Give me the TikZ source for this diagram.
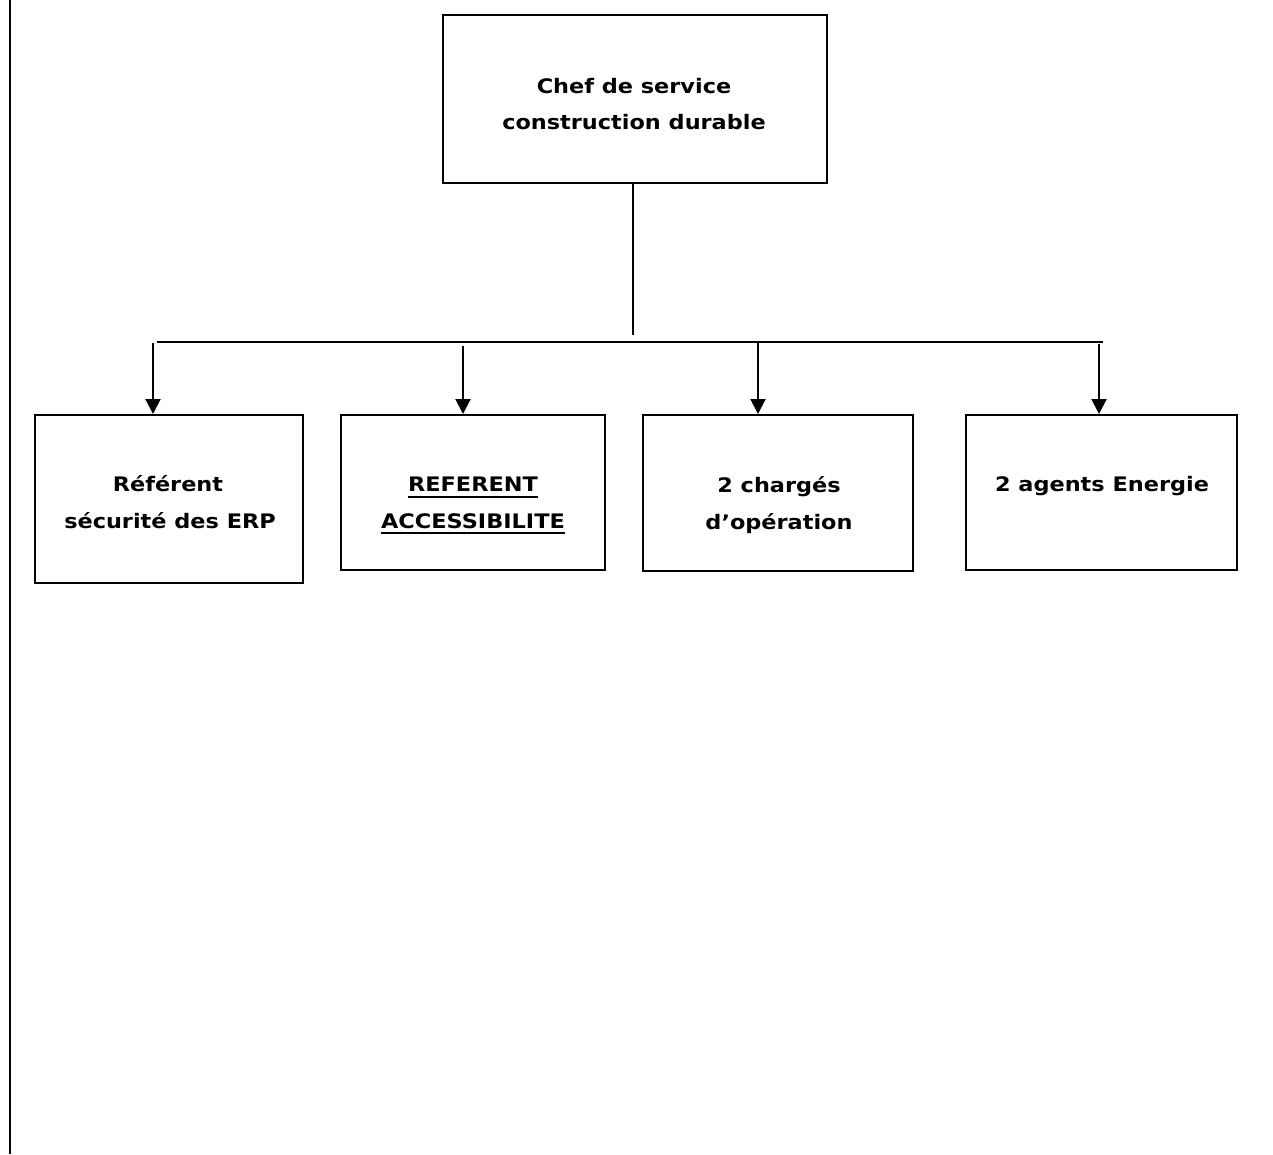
\documentclass[tikz,border=0pt]{standalone}
\usepackage{fontspec}
\setmainfont{DejaVu Sans}[FakeStretch=1.12]
\usetikzlibrary{arrows.meta}
\newcommand\myul[1]{\setbox0\hbox{#1}\rlap{\rule[-6pt]{\wd0}{1.8pt}}\box0}
\tikzset{
  orgbox/.style={draw=black, line width=2pt, rectangle, inner sep=0pt},
  lbl/.style={anchor=base, inner sep=0pt, font=\fontsize{20}{23}\selectfont\bfseries},
  conn/.style={line width=2pt},
  arr/.style={line width=2pt, -{Triangle[width=15pt,length=15pt]}}
}
\begin{document}
\begin{tikzpicture}[x=1pt,y=-1pt]
\useasboundingbox (0,0) rectangle (1273,1154);
% left margin line
\coordinate (m1) at (10,0);
\coordinate (m2) at (10,1154);
\draw[line width=2.2pt] (m1) -- (m2);
% boxes
\node[orgbox, minimum width=384pt, minimum height=168pt] (top) at (635,99) {};
\node[orgbox, minimum width=268pt, minimum height=168pt] (b1) at (169,499) {};
\node[orgbox, minimum width=264pt, minimum height=155pt] (b2) at (473,492.5) {};
\node[orgbox, minimum width=270pt, minimum height=156pt] (b3) at (778,493) {};
\node[orgbox, minimum width=271pt, minimum height=155pt] (b4) at (1101.5,492.5) {};
% texts
\node[lbl] (t0a) at (634,93.3) {Chef de service};
\node[lbl] (t0b) at (634,129.3) {construction durable};
\node[lbl] (t1a) at (168,491.7) {Référent};
\node[lbl] (t1b) at (170,528) {sécurité des ERP};
\node[lbl] (t2a) at (473,491.7) {\myul{REFERENT}};
\node[lbl] (t2b) at (473,528) {\myul{ACCESSIBILITE}};
\node[lbl] (t3a) at (779,492.7) {2 chargés};
\node[lbl] (t3b) at (779,529) {d’opération};
\node[lbl] (t4a) at (1102,491.7) {2 agents Energie};
% connectors
\coordinate (stub) at (633,335);
\draw[conn] (top.south -| stub) -- (stub);
\coordinate (hl) at (157,342);
\coordinate (hr) at (1103,342);
\draw[conn] (hl) -- (hr);
\coordinate (a1) at (153,343);
\coordinate (a2) at (463,346);
\coordinate (a3) at (758,342);
\coordinate (a4) at (1099,344);
\draw[arr] (a1) -- (a1 |- b1.north);
\draw[arr] (a2) -- (a2 |- b2.north);
\draw[arr] (a3) -- (a3 |- b3.north);
\draw[arr] (a4) -- (a4 |- b4.north);
\end{tikzpicture}
\end{document}
